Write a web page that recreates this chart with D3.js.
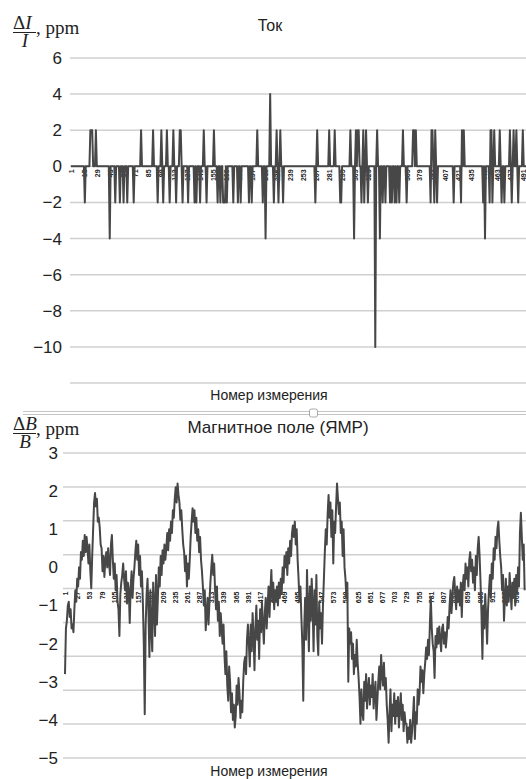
<!DOCTYPE html>
<html>
<head>
<meta charset="utf-8">
<script src="https://cdn.jsdelivr.net/npm/d3@7"></script>
<style>
body { margin: 0; background: #fff; }
svg { display: block; font-family: "Liberation Sans", Arial, sans-serif; }
</style>
</head>
<body>
<div id="vis-container"></div>
<script>
//width and height
var w = 526;
var h = 779;

// top chart: current deviation dI/I, ppm, measurements 1..495
var currentValues = [
    0,0,0,0,0,0,0,0,0,0,
    0,0,0,0,0,-2,0,0,0,0,
    0,2,2,2,0,0,0,2,0,0,
    0,0,0,0,0,0,0,0,0,0,
    0,0,-4,0,0,0,0,0,-2,0,
    0,0,0,-2,0,0,0,-2,0,0,
    0,-2,0,0,0,0,0,0,-2,0,
    0,0,0,0,0,0,2,0,0,0,
    0,0,0,0,0,0,0,0,0,2,
    0,0,0,0,-2,0,0,0,2,0,
    -2,0,0,0,2,0,0,-2,0,0,
    0,2,0,0,-2,0,0,0,2,2,
    0,-2,0,0,0,0,0,-2,0,0,
    0,0,0,0,-2,0,-2,0,0,0,
    -2,0,0,0,2,0,0,-2,0,0,
    0,0,0,0,0,2,0,0,0,-2,
    0,0,-2,0,0,-2,-2,-2,0,-2,
    0,0,0,0,0,0,-2,0,0,0,
    0,-2,0,0,-2,0,0,0,0,0,
    0,0,0,-2,0,0,-2,0,0,0,
    0,0,2,0,0,0,0,0,-2,0,
    0,-4,0,0,0,0,4,0,0,0,
    -2,0,0,2,0,-2,0,2,0,0,
    -2,0,0,0,0,0,0,0,0,0,
    0,0,0,0,0,0,0,0,0,0,
    0,0,0,0,0,0,0,0,0,0,
    0,0,0,0,0,-2,0,2,0,0,
    0,0,0,0,0,0,0,0,0,0,
    2,0,0,0,0,0,2,0,0,0,
    0,0,-2,-2,0,0,0,0,0,0,
    0,0,0,2,0,0,0,-4,0,2,
    0,2,2,0,0,-2,0,2,-2,0,
    2,0,-2,0,0,0,0,0,0,0,
    -10,0,2,0,0,-4,0,0,-2,0,
    0,-2,0,0,0,0,-2,0,-2,0,
    0,-2,0,-2,0,0,-2,0,0,0,
    2,0,0,0,-2,0,0,0,0,0,
    0,2,2,0,2,0,0,0,0,0,
    0,0,0,0,0,0,0,0,0,0,
    -2,2,2,0,-2,2,0,-2,0,0,
    0,0,0,0,0,0,0,0,0,0,
    0,0,0,0,0,-2,0,0,0,0,
    0,0,0,-2,2,0,2,0,0,0,
    0,0,0,0,0,0,0,0,0,0,
    0,0,0,0,0,0,0,-2,0,-4,
    0,0,0,0,-2,2,2,-2,0,2,
    0,0,0,0,0,2,0,-2,0,0,
    -2,0,0,0,0,0,2,0,-2,0,
    2,0,0,2,0,-2,0,0,0,0,
    2,0,0,0,0
];
var currentTickLabels = [1, 15, 29, 43, 57, 71, 85, 99, 113, 127, 141, 155, 169, 183, 197, 211, 225, 239,
    253, 267, 281, 295, 309, 323, 337, 351, 365, 379, 393, 407, 421, 435, 449, 463, 477, 491];
var currentYTicks = [6, 4, 2, 0, -2, -4, -6, -8, -10];

// bottom chart: NMR field deviation dB/B, ppm, every 2nd measurement
var fieldValues = [
    -2.8, -1.6, -1.4, -1.0, -0.9, -1.3, -1.1, -1.6, -1.5,
    -1.7, -1.1, -0.6, -0.9, -0.3, -0.5, 0.0, -0.3, 0.4, 0.2,
    0.7, 0.3, 0.85, 0.4, 0.8, 0.5, 0.1, 0.6, -0.1, -0.55,
    0.3, 1.0, 1.7, 1.95, 1.6, 1.8, 1.2, 1.3, 1.05, 0.6,
    0.5, -0.1, 0.3, -0.25, 0.2, 0.4, 0.0, 0.5, 0.1, -0.2,
    0.6, 0.85, 0.2, -0.3, 0.1, -0.6, -0.2, -0.9, -1.1, -1.8,
    -0.7, -0.4, -0.2, 0.1, -0.3, -0.6, -0.1, -0.95, -0.4,
    -0.6, -1.46, -0.5, -0.1, -0.8, -0.3, 0.0, 0.4, 0.7, 0.2,
    0.6, -0.2, 0.3, -0.5, -0.1, -0.9, -2.0, -3.85, -1.5, -0.7,
    -0.3, -1.2, -2.35, -0.6, -1.6, -2.2, -0.4, -1.0, -1.8, -0.2,
    -1.5, -0.8, 0.0, -0.5, 0.3, -0.2, 0.45, 0.1, 0.6, 0.2,
    0.5, 0.9, 0.45, 1.0, 0.7, 1.2, 0.9, 1.5, 1.3, 1.8,
    2.1, 1.7, 2.2, 1.9, 1.7, 1.25, 1.5, 1.0, 0.6,
    0.4, -0.1, 0.3, -0.5, 0.1, -0.3, 0.2, 0.8, 1.2, 1.55,
    1.2, 1.5, 0.9, 1.3, 0.7, 1.0, 0.4, 0.8, 0.2, -0.1,
    -0.5, -1.0, -0.6, -1.65, -1.2, -0.8, -1.5, -0.9, -0.4, 0.0,
    0.33, -0.2, 0.1, -0.6, -1.1, -0.5, -1.4, -0.9, -1.8, -1.2,
    -1.6, -2.0, -1.5, -2.3, -2.8, -2.2, -3.1, -3.5, -2.6, -3.0,
    -3.8, -3.3, -4.0, -3.6, -4.2, -3.9, -3.1, -3.6, -2.9,
    -3.3, -3.95, -3.5, -3.8, -3.0, -2.5, -2.35, -2.8, -1.9, -1.5,
    -2.0, -2.6, -1.5, -2.2, -1.2, -1.8, -2.7, -1.6, -1.0, -1.9,
    -1.4, -2.4, -1.1, -1.7, -0.9, -1.5, -2.0, -1.2, -0.8, -1.6,
    -1.0, -0.5, -1.3, -0.6, -0.07, -0.9, -0.4, -1.1, -0.6, -0.9,
    -0.5, -1.0, -0.4, -0.8, -0.3, -0.7, 0.0, -0.4, 0.3, 0.0,
    0.4, -0.2, 0.5, 0.1, 0.7, 0.3, 0.9, 1.1, 0.8,
    1.2, 0.6, 1.0, 0.2, -0.3, -0.9, -0.5, -1.3, -2.0, -3.5,
    -1.6, -0.8, -1.9, -0.07, -1.2, -2.2, -0.5, -1.4, -0.3, -1.0,
    -2.2, -0.6, -1.5, -0.2, -1.8, -2.3, -0.9, -1.6, -1.2, -2.0,
    -1.0, -0.3, 0.4, 1.0, 0.6, 1.4, 1.9, 1.3, 1.7, 0.8,
    1.5, 0.1, 1.2, 0.9, 1.6, 2.2, 1.8, 1.4, 1.7, 0.9,
    1.2, 0.3, 1.0, 0.0, -0.3, -0.8, -0.4, -3.0, -1.6,
    -2.0, -1.7, -2.4, -2.0, -2.8, -2.3, -2.6, -1.9, -2.5, -2.9,
    -3.4, -4.1, -3.2, -3.8, -4.0, -3.0, -3.5, -2.8, -3.7, -3.2,
    -2.9, -3.6, -3.1, -3.4, -2.8, -3.7, -3.3, -3.0, -4.0, -3.5,
    -3.0, -2.6, -3.2, -2.3, -2.8, -3.1, -2.5, -3.2, -2.9, -3.6,
    -4.0, -4.6, -3.8, -3.2, -4.3, -3.6, -3.9, -3.3, -4.1, -3.5,
    -3.9, -3.4, -4.2, -3.7, -3.3, -4.0, -3.6, -4.3, -3.8, -4.1,
    -4.1, -4.6, -4.2, -4.5, -4.0, -4.6, -4.3, -3.9, -3.4,
    -4.5, -3.8, -4.1, -3.2, -3.6, -3.3, -2.6, -3.0, -2.7, -3.3,
    -2.8, -2.5, -2.1, -2.4, -1.9, -2.3, -1.5, -0.8, -1.6, -2.0,
    -2.2, -2.9, -1.8, -2.1, -1.6, -2.0, -1.55, -1.9, -2.2, -1.6,
    -1.5, -2.0, -1.7, -2.1, -1.8, -1.3, -1.6, -1.0, -0.6, -1.2,
    -0.8, -0.4, -0.25, -0.7, -1.1, -0.5, -0.9, -0.6, -1.0, -0.4,
    -1.3, -0.5, -0.2, -0.6, 0.1, -0.3, 0.0, -0.5, 0.2,
    0.4, -0.1, 0.2, -0.4, 0.0, -0.6, 0.3, -0.2, 0.5, 0.8,
    0.3, -0.4, -1.2, -2.4, -1.0, -1.6, -0.7, -1.3, -2.0, -1.1,
    -0.6, -0.2, -0.8, 0.1, -0.3, 0.5, 0.2, 0.8, 0.5, 1.0,
    1.2, 0.7, 0.3, 0.0, -0.6, -0.2, -1.4, -0.8, -0.3, -1.0,
    -0.5, -0.9, -0.15, -0.6, -1.1, -0.4, -0.8, -0.3, -1.0, -0.2,
    -0.7, 0.0, -0.5, 0.9, 1.43, 0.8, 0.2, 0.6, -0.6
];
var fieldStep = 2;
var fieldTickLabels = [1, 27, 53, 79, 105, 131, 157, 183, 209, 235, 261, 287, 313, 339, 365, 391, 417, 443,
    469, 495, 521, 547, 573, 599, 625, 651, 677, 703, 729, 755, 781, 807, 833, 859, 885, 911, 937, 963];
var fieldYTicks = [3, 2, 1, 0, -1, -2, -3, -4, -5];

var lineColor = "#474747";
var gridColor = "#d0d0d0";

var svg = d3.select("#vis-container")
    .append("svg")
    .attr("width", w)
    .attr("height", h);

// ---------- top chart (Ток) ----------
var xTop = d3.scaleLinear().domain([1, 495]).range([71, 526.5]);
var yTop = d3.scaleLinear().domain([6, -12]).range([58, 383]);

svg.append("g")
    .selectAll("line")
    .data(yTop.ticks(10))
    .enter()
    .append("line")
    .attr("x1", 70)
    .attr("x2", w)
    .attr("y1", function (d) { return yTop(d); })
    .attr("y2", function (d) { return yTop(d); })
    .attr("stroke", gridColor)
    .attr("stroke-width", 1.5);

var yAxisTop = svg.append("g")
    .attr("transform", "translate(62,0)")
    .call(d3.axisLeft(yTop).tickValues(currentYTicks).tickSize(0).tickPadding(0));
yAxisTop.select(".domain").remove();
yAxisTop.selectAll("text")
    .style("font-size", "17px")
    .style("font-family", "Liberation Sans, Arial, sans-serif")
    .attr("fill", "#222");

var xAxisTop = svg.append("g")
    .attr("transform", "translate(0," + yTop(0) + ")")
    .call(d3.axisBottom(xTop).tickValues(currentTickLabels).tickSize(0));
xAxisTop.select(".domain").remove();
xAxisTop.selectAll("text")
    .attr("transform", "rotate(-90)")
    .attr("x", -3)
    .attr("y", 0)
    .attr("dy", "0.35em")
    .style("text-anchor", "end")
    .style("font-size", "7px")
    .style("font-weight", "bold")
    .style("font-family", "Liberation Sans, Arial, sans-serif")
    .attr("fill", "#222");

var lineTop = d3.line()
    .x(function (d, i) { return xTop(i + 1); })
    .y(function (d) { return yTop(d); });

svg.append("path")
    .datum(currentValues)
    .attr("d", lineTop)
    .attr("fill", "none")
    .attr("stroke", lineColor)
    .attr("stroke-width", 2)
    .attr("stroke-linejoin", "round");

svg.append("text")
    .attr("x", 270)
    .attr("y", 31)
    .style("text-anchor", "middle")
    .style("font-size", "16px")
    .attr("fill", "#222")
    .text("Ток");

svg.append("text")
    .attr("x", 269)
    .attr("y", 400)
    .style("text-anchor", "middle")
    .style("font-size", "14px")
    .attr("fill", "#222")
    .text("Номер измерения");

// fraction label dI/I, ppm
function fracLabel(sym, yTopText, yBar) {
    var g = svg.append("g").style("font-family", "Liberation Serif, Times New Roman, serif").attr("fill", "#222");
    var num = g.append("text").attr("x", 13).attr("y", yTopText).style("font-size", "19px");
    num.append("tspan").text("Δ");
    num.append("tspan").style("font-style", "italic").text(sym);
    g.append("line").attr("x1", 13).attr("x2", 36).attr("y1", yBar).attr("y2", yBar)
        .attr("stroke", "#222").attr("stroke-width", 1);
    g.append("text").attr("x", 25).attr("y", yBar + 14).style("text-anchor", "middle")
        .style("font-size", "19px").style("font-style", "italic").text(sym);
    g.append("text").attr("x", 36).attr("y", yBar + 1).style("font-size", "19px").text(", ppm");
}
fracLabel("I", 29, 32.5);

// ---------- divider ----------
svg.append("line").attr("x1", 23).attr("x2", w).attr("y1", 411.5).attr("y2", 411.5)
    .attr("stroke", "#c4c4c4").attr("stroke-width", 1.2);
svg.append("line").attr("x1", 23).attr("x2", w).attr("y1", 414.5).attr("y2", 414.5)
    .attr("stroke", "#c4c4c4").attr("stroke-width", 1.2);
svg.append("rect").attr("x", 309.5).attr("y", 409).attr("width", 8).attr("height", 8).attr("rx", 2)
    .attr("fill", "#fff").attr("stroke", "#aaa");

// ---------- bottom chart (Магнитное поле) ----------
var xBot = d3.scaleLinear().domain([1, 985]).range([65, 526.5]);
var yBot = d3.scaleLinear().domain([3, -5]).range([453, 758]);
var gridBot = d3.scaleLinear().domain([0, 9]).range([453, 758]);

svg.append("g")
    .selectAll("line")
    .data(d3.range(10))
    .enter()
    .append("line")
    .attr("x1", 63)
    .attr("x2", w)
    .attr("y1", function (d) { return gridBot(d); })
    .attr("y2", function (d) { return gridBot(d); })
    .attr("stroke", gridColor)
    .attr("stroke-width", 1.5);

var yAxisBot = svg.append("g")
    .attr("transform", "translate(58,0)")
    .call(d3.axisLeft(yBot).tickValues(fieldYTicks).tickSize(0).tickPadding(0));
yAxisBot.select(".domain").remove();
yAxisBot.selectAll("text")
    .style("font-size", "17px")
    .style("font-family", "Liberation Sans, Arial, sans-serif")
    .attr("fill", "#222");

var xAxisBot = svg.append("g")
    .attr("transform", "translate(0," + gridBot(4) + ")")
    .call(d3.axisBottom(xBot).tickValues(fieldTickLabels).tickSize(0));
xAxisBot.select(".domain").remove();
xAxisBot.selectAll("text")
    .attr("transform", "rotate(-90)")
    .attr("x", -3)
    .attr("y", 0)
    .attr("dy", "0.35em")
    .style("text-anchor", "end")
    .style("font-size", "7px")
    .style("font-weight", "bold")
    .style("font-family", "Liberation Sans, Arial, sans-serif")
    .attr("fill", "#222");

var lineBot = d3.line()
    .x(function (d, i) { return xBot(1 + i * fieldStep); })
    .y(function (d) { return yBot(d); });

svg.append("path")
    .datum(fieldValues)
    .attr("d", lineBot)
    .attr("fill", "none")
    .attr("stroke", lineColor)
    .attr("stroke-width", 2)
    .attr("stroke-linejoin", "round");

svg.append("text")
    .attr("x", 278)
    .attr("y", 433)
    .style("text-anchor", "middle")
    .style("font-size", "17px")
    .attr("fill", "#222")
    .text("Магнитное поле (ЯМР)");

svg.append("text")
    .attr("x", 269)
    .attr("y", 776)
    .style("text-anchor", "middle")
    .style("font-size", "14px")
    .attr("fill", "#222")
    .text("Номер измерения");

fracLabel("B", 430, 433.5);
</script>
</body>
</html>
